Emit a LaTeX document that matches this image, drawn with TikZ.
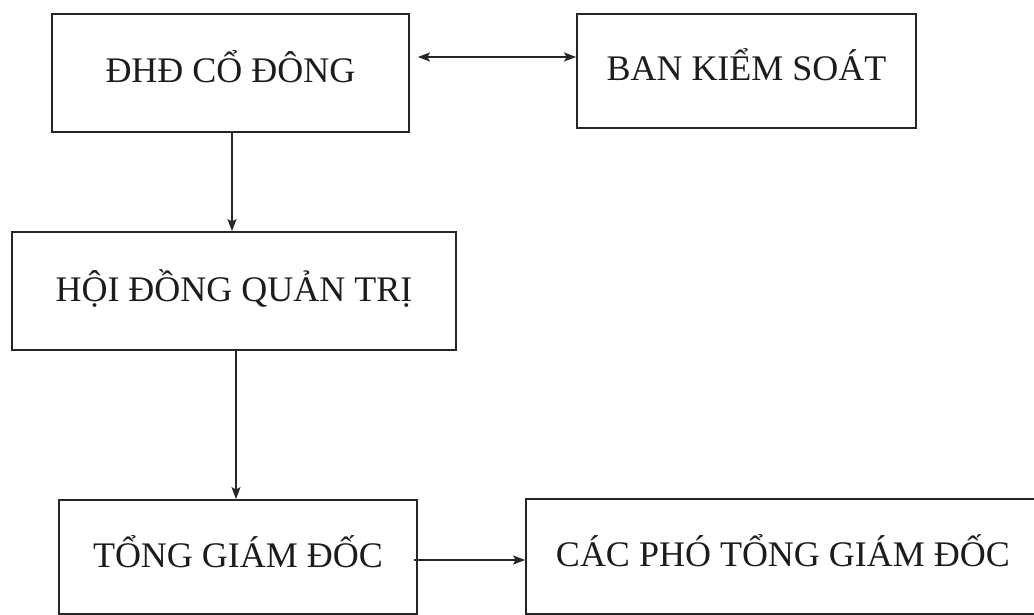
\documentclass[tikz,border=0pt]{standalone}
\usepackage{fontspec}
\setmainfont{Liberation Serif}
\usetikzlibrary{arrows.meta}
\definecolor{linec}{HTML}{262626}
\definecolor{textc}{HTML}{1C1C1C}
\begin{document}
\begin{tikzpicture}[x=1pt,y=-1pt,
  box/.style={draw=linec, line width=1.8pt, rectangle, inner sep=0pt,
    text=textc, font=\fontsize{36}{40}\selectfont,
    text height=24pt, text depth=4pt},
  tip/.style={},
  conn/.style={draw=linec, line width=1.6pt, -{Stealth[length=12pt,width=9pt,inset=2.5pt]}},
  conntwo/.style={draw=linec, line width=1.6pt, {Stealth[length=12pt,width=9pt,inset=2.5pt]}-{Stealth[length=12pt,width=9pt,inset=2.5pt]}}]
\useasboundingbox[fill=white] (0,0) rectangle (1034,615);
\node[box, minimum width=357pt, minimum height=118pt] (b1) at (230.5,73) {ĐHĐ CỔ ĐÔNG};
\node[box, minimum width=339pt, minimum height=114pt] (b2) at (746.5,71) {BAN KIỂM SOÁT};
\node[box, minimum width=444pt, minimum height=118pt] (b3) at (234,291) {HỘI ĐỒNG QUẢN TRỊ};
\node[box, minimum width=358pt, minimum height=114pt] (b4) at (238,557) {TỔNG GIÁM ĐỐC};
\node[box, minimum width=514pt, minimum height=115pt] (b5) at (783,556.5) {CÁC PHÓ TỔNG GIÁM ĐỐC};
\draw[conntwo] ([xshift=8pt,yshift=16pt]b1.east) -- ([yshift=14pt]b2.west);
\draw[conn] ([xshift=1.5pt]b1.south) -- ([xshift=-2pt]b3.north);
\draw[conn] ([xshift=2pt]b3.south) -- ([xshift=-2pt]b4.north);
\draw[conn] ([xshift=-4pt,yshift=-3pt]b4.east) -- ([yshift=-3.5pt]b5.west);
\end{tikzpicture}
\end{document}
